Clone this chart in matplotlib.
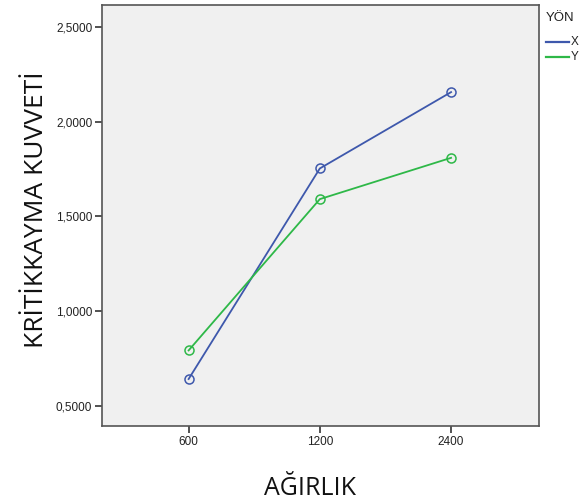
import matplotlib
matplotlib.use("Agg")
import matplotlib.pyplot as plt
from matplotlib.lines import Line2D

plt.rcParams['font.family'] = ['Liberation Sans', 'DejaVu Sans']

categories = ["600", "1200", "2400"]
series_x = [0.641, 1.753, 2.156]
series_y = [0.792, 1.591, 1.809]
y_ticks = [0.5, 1.0, 1.5, 2.0, 2.5]
y_tick_labels = ["0,5000", "1,0000", "1,5000", "2,0000", "2,5000"]

blue = "#3E58AC"
green = "#2EB848"

W, H = 581, 504
fig = plt.figure(figsize=(W/100, H/100), dpi=100)
ax = fig.add_axes([102/W, 1 - 426/H, (539-102)/W, (426-5)/H])
ax.set_facecolor("#F0F0F0")

pos = range(len(categories))
ax.plot(pos, series_x, color=blue, lw=1.3, marker='o', ms=6.5,
        mfc='none', mec=blue, mew=1.1)
ax.plot(pos, series_y, color=green, lw=1.3, marker='o', ms=6.5,
        mfc='none', mec=green, mew=1.1)

ax.set_xlim(-0.66, 2.67)
ax.set_ylim(0.393, 2.616)
ax.set_xticks(list(pos))
ax.set_xticklabels(categories, fontsize=8.5, color="#222222")
ax.set_yticks(y_ticks)
ax.set_yticklabels(y_tick_labels, fontsize=8.5, color="#222222")
ax.tick_params(axis='both', length=5, width=1.2, color="#333333", pad=2)

for s in ax.spines.values():
    s.set_color("#555555")
    s.set_linewidth(1.2)

# axis titles
fig.text(310/W, 1 - 495/H, "AĞIRLIK", fontsize=18, family=['Open Sans', 'DejaVu Sans'],
         ha='center', va='baseline', color="#111111")
fig.text(43/W, 1 - 210/H, "KRİTİKKAYMA KUVVETİ", fontsize=19, family=['Open Sans', 'DejaVu Sans'],
         rotation=90, ha='center', va='baseline', rotation_mode='anchor', color="#111111")

# legend on the right of the plot area
fig.text(546/W, 1 - 18/H, "YÖN", fontsize=9.5, va='center', ha='left', color="#222222")
for yy, col, lab in [(42, blue, "X"), (57, green, "Y")]:
    fy = 1 - yy/H
    fig.add_artist(Line2D([546/W, 569/W], [fy, fy], color=col, lw=1.6))
    fig.text(571/W, fy, lab, fontsize=8.5, va='center', ha='left', color="#222222")

fig.savefig("out.png", dpi=100)
